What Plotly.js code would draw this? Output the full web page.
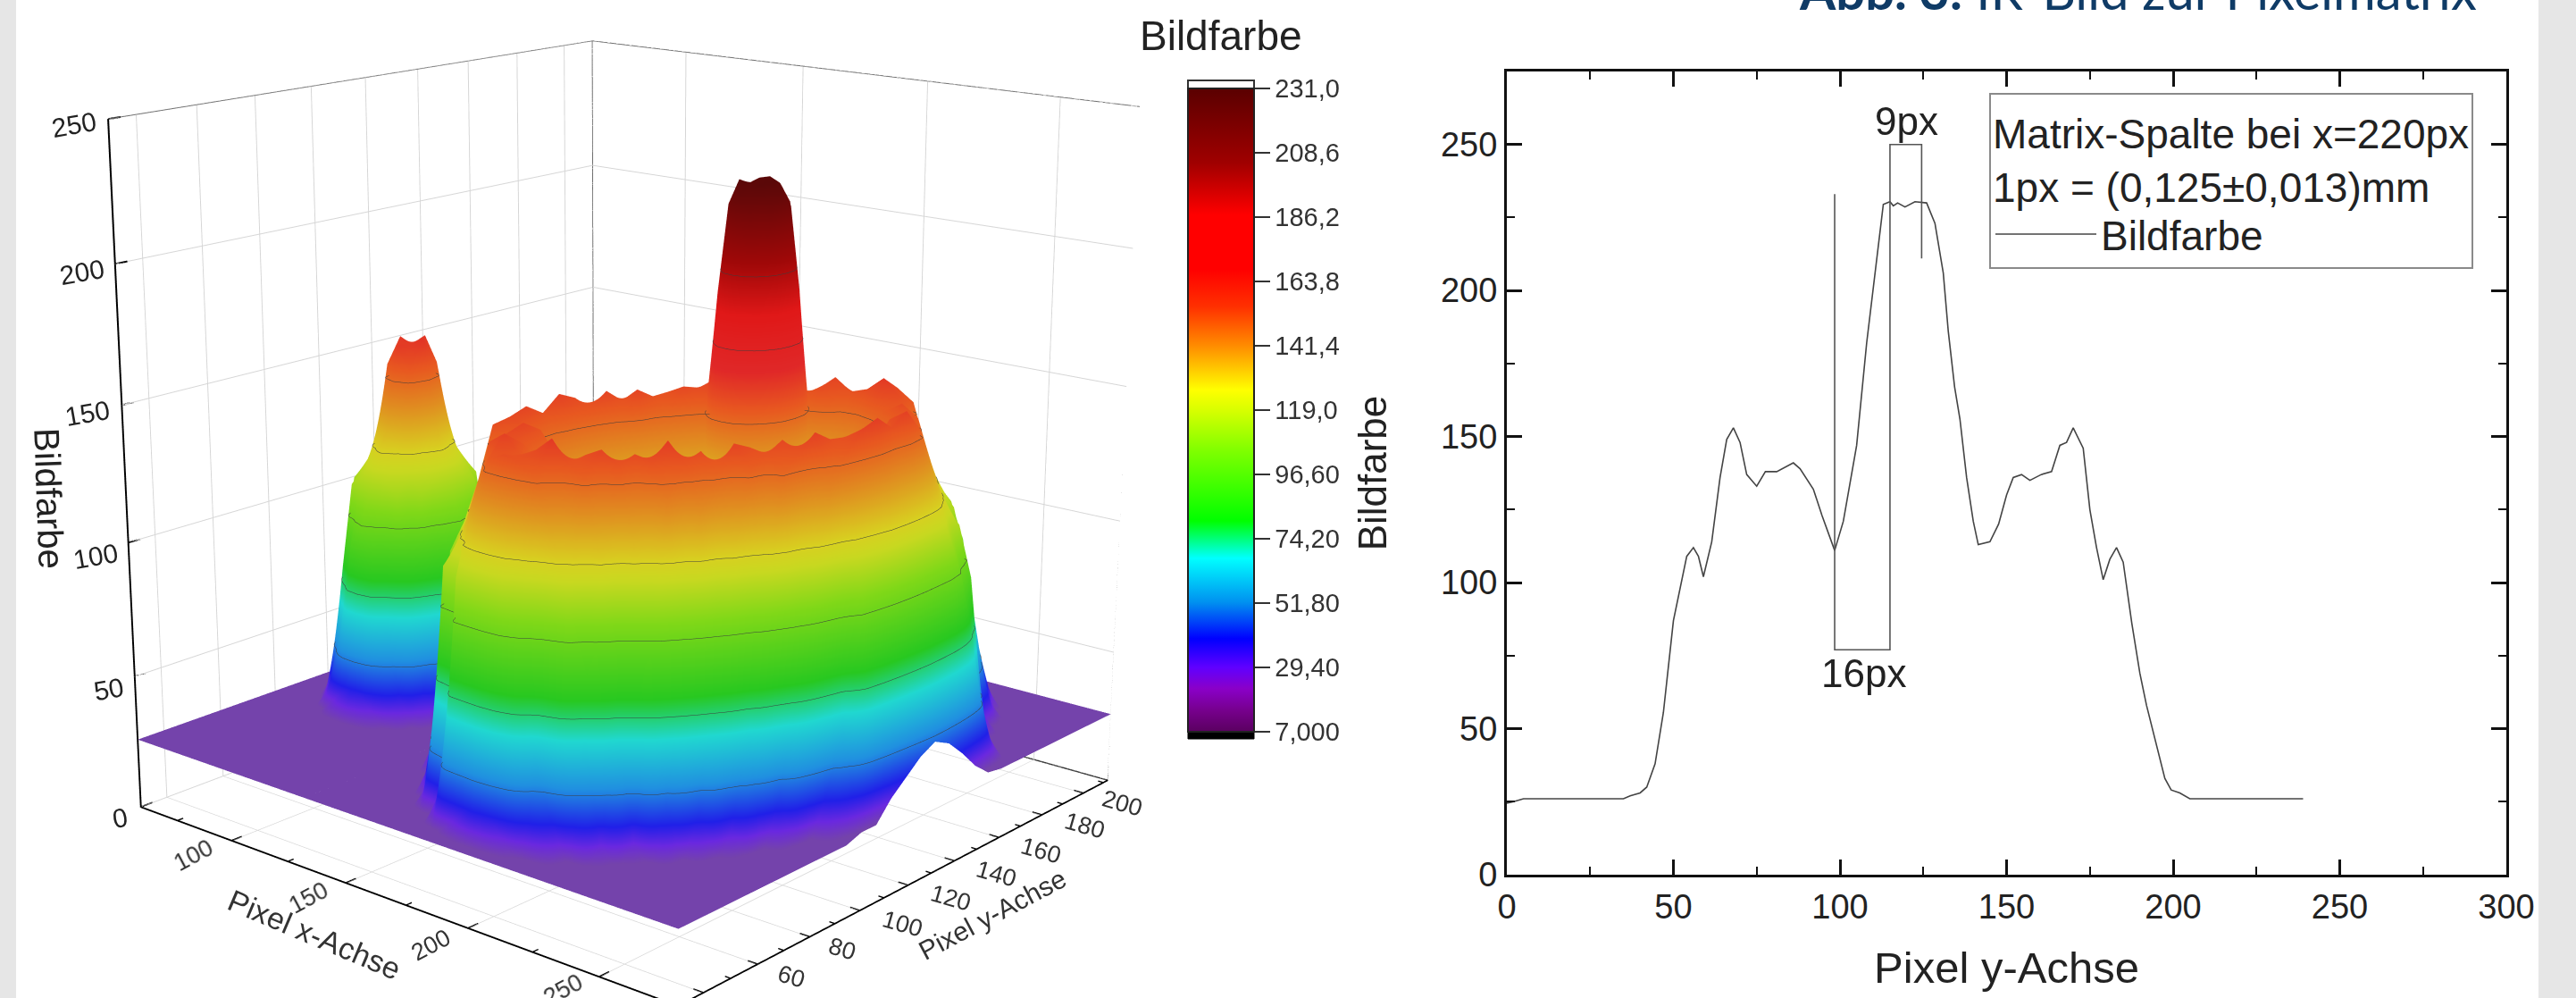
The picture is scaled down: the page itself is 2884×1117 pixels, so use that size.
<!DOCTYPE html>
<html><head><meta charset="utf-8">
<script src="https://cdn.plot.ly/plotly-3.0.1.min.js"></script>
<style>html,body{margin:0;background:#fff;overflow:hidden;width:2884px;height:1117px}#g{position:absolute;left:0;width:2884px}</style>
</head><body><div id="g"></div><script>
/* ---------- 3D chart data ---------- */
var xRange=[57.748,278.384], yRange=[30.986,212.225], zRange=[0,250];
var floorValue=26;
var bodyX=[133,139,145,151,157,163,169,175,181,187,193,199,205,211,217,223,229,235,241,247,253,259,265,271,278.384];
var bodyY=[30.986,34,40,46,52,58,64,70,76,82,88,94,100,106,112,118,124,130,136,142,148,154,160,166,172,178,184,190,196,202,208,212.225];
var bodyZ=[
[26,26,26,26,26,26,26,26,26,26,26,26,26,26,26,26,26,26,26,26,26,26,26,26,26],
[26,26,26,26,26,26,26,26,26,30,36,42,39,33,26,26,26,26,26,26,26,26,26,26,26],
[26,26,26,26,26,26,26,26,45,115,119,120,117,96,56,40,26,26,26,26,26,26,26,26,26],
[26,26,26,26,26,26,40,114,122,139,154,157,156,152,135,112,65,34,26,26,26,26,26,26,26],
[26,26,26,26,26,45,109,121,137,157,161,155,158,163,156,153,125,74,34,26,26,26,26,26,26],
[26,26,26,26,38,75,116,127,147,158,156,148,147,149,157,160,156,131,92,47,26,26,26,26,26],
[26,26,26,45,109,121,137,157,150,160,149,140,137,138,146,151,158,157,146,92,43,26,26,26,26],
[26,26,30,60,116,127,147,158,156,156,149,137,128,128,134,139,149,162,156,141,83,36,26,26,26],
[26,26,40,85,118,131,150,160,149,140,136,131,128,126,127,131,139,149,158,152,127,65,27,26,26],
[26,30,52,95,120,132,150,156,149,137,130,128,130,125,126,127,129,139,150,160,153,111,44,26,26],
[26,32,65,100,120,131,146,161,151,138,128,127,128,128,127,125,126,132,141,157,156,151,83,28,26],
[26,34,68,100,119,130,142,158,155,142,130,125,127,126,127,125,126,127,135,145,159,156,117,42,26],
[26,36,70,98,116,127,138,152,160,148,136,128,127,126,129,126,124,126,128,139,151,161,144,62,28],
[26,36,68,96,114,125,134,146,155,160,142,132,127,125,127,129,126,125,127,134,145,157,154,108,28],
[26,36,66,92,110,120,130,140,152,156,151,139,129,126,124,126,129,126,127,129,140,156,160,118,35],
[26,34,60,88,107,116,126,135,146,156,159,148,138,129,126,125,127,130,129,130,139,151,162,125,40],
[26,30,55,80,103,112,121,130,138,148,157,161,146,137,129,126,127,128,130,132,141,151,157,126,45],
[26,28,48,70,92,107,114,125,132,141,151,158,155,147,138,130,129,130,131,134,143,157,161,124,48],
[26,26,40,60,85,102,110,118,126,133,141,151,156,160,149,141,138,137,139,143,150,157,153,120,45],
[26,26,33,52,75,95,105,114,120,129,134,142,151,158,155,157,148,146,149,154,158,154,136,116,39],
[26,26,28,45,65,85,100,106,114,120,127,132,140,148,155,160,156,158,163,157,150,136,122,100,32],
[26,26,26,37,55,75,92,101,107,114,120,126,132,137,143,150,153,156,158,154,136,121,114,75,27],
[26,29,40,53,64,77,84,92,101,107,114,118,124,128,132,136,139,141,140,134,122,100,93,42,26],
[26,26,32,45,57,68,78,85,92,100,105,112,116,120,124,126,128,128,126,121,114,75,27,26,26],
[26,26,26,36,48,58,70,78,84,90,97,103,107,111,115,117,118,118,117,113,93,42,26,26,26],
[26,26,26,28,37,49,58,68,76,82,87,92,98,102,105,107,108,107,103,97,64,30,26,26,26],
[26,26,26,26,29,37,46,55,64,74,77,81,86,90,93,95,95,92,84,65,38,26,26,26,26],
[26,26,26,26,26,27,36,44,49,58,64,69,75,79,80,80,80,75,57,41,26,26,26,26,26],
[26,26,26,26,26,26,26,32,38,44,49,56,59,61,62,61,55,47,35,26,26,26,26,26,26],
[26,26,26,26,26,26,26,26,26,30,36,40,43,44,43,40,37,30,26,26,26,26,26,26,26],
[26,26,26,26,26,26,26,26,26,26,26,26,28,28,28,26,26,26,26,26,26,26,26,26,26],
[26,26,26,26,26,26,26,26,26,26,26,26,26,26,26,26,26,26,26,26,26,26,26,26,26]];
var spikeX=[185,189,193,197,201,205,209,213,217,221,225,229,233];
var spikeY=[107,111,115,119,123,127,131,135,139,143,147,151,155];
var spikeZ=[
[100,100,100,100,100,100,100,100,100,100,100,100,100],
[100,100,100,100,100,100,104,100,100,100,100,100,100],
[100,100,100,104,116,126,130,126,116,104,100,100,100],
[100,100,104,122,150,175,182,175,150,122,104,100,100],
[100,100,116,150,192,222,228,222,192,150,116,100,100],
[100,104,126,175,222,231,229,230,222,175,126,104,100],
[100,104,130,182,228,229,230,231,228,182,130,104,100],
[100,104,126,175,222,230,231,229,222,175,126,104,100],
[100,100,116,150,192,222,228,222,192,150,116,100,100],
[100,100,104,122,150,175,182,175,150,122,104,100,100],
[100,100,100,104,116,126,130,126,116,104,100,100,100],
[100,100,100,100,100,100,104,100,100,100,100,100,100],
[100,100,100,100,100,100,100,100,100,100,100,100,100]];
var humpX=[70,75,80,85,90,95,100,105,110,115,120,125,130];
var humpY=[70,75,80,85,90,95,100,105,110,115,120,125,130];
var humpZ=[
[26,26,26,26,26,26,26,26,26,26,26,26,26],
[26,26,26,27,32,37,40,37,32,27,26,26,26],
[26,26,28,40,62,92,100,92,62,40,28,26,26],
[26,27,40,80,112,116,117,116,112,80,40,27,26],
[26,32,62,112,118,125,133,125,118,112,62,32,26],
[26,37,92,116,125,155,163,156,125,116,92,37,26],
[26,40,100,117,133,164,162,165,133,117,100,40,26],
[26,37,92,116,125,154,164,155,125,116,92,37,26],
[26,32,62,112,118,125,133,125,118,112,62,32,26],
[26,27,40,80,112,116,117,116,112,80,40,27,26],
[26,26,28,40,62,92,100,92,62,40,28,26,26],
[26,26,26,27,32,37,40,37,32,27,26,26,26],
[26,26,26,26,26,26,26,26,26,26,26,26,26]];
var zTickMajor=[0,50,100,150,200,250];
var zTickLabels=['0','50','100','150','200','250'];
var xTickMajor=[100,150,200,250], xTickMinor=[75,125,175,225,275];
var yTickMajor=[40,60,80,100,120,140,160,180,200], yTickMinor=[50,70,90,110,130,150,170,190,210];
var contourLevels={start:25,end:225,size:25};
/* ---------- colour bar ---------- */
var barTickVals=[7,29.4,51.8,74.2,96.6,119,141.4,163.8,186.2,208.6,231];
var barTickText=['7,000','29,40','51,80','74,20','96,60','119,0','141,4','163,8','186,2','208,6','231,0'];
var barZ=[7,14,22,29.4,39.4,52,67.4,80.4,105,119,126,141.4,155,168,187,205,231];
var barColors=['#5a0060','#75008a','#8a00c8','#6000ff','#0000ff','#0090f0','#00ffff','#00ff00','#80ff00','#d8ff00','#ffff00','#ff8c00','#ff3000','#ff0000','#ff0000','#a00000','#5a0000'];
var surfZ=[7,26,28,33,39.4,52,67.4,80.4,105,119,126,141.4,155,168,187,205,231];
var surfColors=['#7443ab','#7443ab','#7443ab','#6a28e0','#2020e8','#2090e0','#20d8d0','#28c820','#80d818','#c8d820','#d8d020','#e08c20','#e85820','#e02828','#e01818','#a00808','#5a0808'];
/* ---------- 2D chart data ---------- */
var profX=[0,2,5,35,37,40,42,44.5,47,50,54,56,57.5,59,61.5,64,66,68,70,72,75,77.6,81,86,88,92,94.6,98.4,101,105,108,110.7,113,115,116,117.3,119.5,122.5,126,128.5,131,132.5,134.4,136,138,140,141.5,145,147.6,150,152,154.5,157,160.4,163.5,166,168,170,173,175,177,179,181,183,185,187.6,190,192,195,197.5,199.4,202,205,239];
var profY=[24.5,25,26,26,27,28,30,38,55.6,87,109,112,109,102,114,136,149,153,148,137,133,138,138,141,139,132,123,111,121,147,182,208,229.5,230.4,229,230,228.6,230.4,230,223,206,186,167,156,136,121,113,114,120,130,136,137,135,137,138,147,148,153,146,125,112,101,108,112,107,86,69,58,44,33,29,28,26,26];
var markX=[98.4,98.4,115,115,124.5,124.5], markY=[233,77,77,250,250,211];
var xTicks2D=[0,50,100,150,200,250,300], yTicks2D=[0,50,100,150,200,250];

/* ---------- layout helpers ---------- */
var f3d=3449.84, Hs=f3d*2*Math.tan(Math.PI/8), topY=559-Hs/2;
var g=document.getElementById('g'); g.style.top=topY+'px'; g.style.height=Hs+'px';
function sx(x){return x/2884} function sy(y){return 1-(y-topY)/Hs}
function scale(zs,cols){return cols.map(function(c,i){return [(zs[i]-7)/224,c]})}
var FONT='"Liberation Sans", Arial, sans-serif';
var contours={z:{show:true,start:contourLevels.start,end:contourLevels.end,size:contourLevels.size,color:'#3c3c3c',width:3}};
var light={ambient:1,diffuse:0,specular:0,roughness:1,fresnel:0};
function surf(x,y,z){return {type:'surface',x:x,y:y,z:z,cmin:7,cmax:231,colorscale:scale(surfZ,surfColors),showscale:false,contours:contours,lighting:light,hoverinfo:'skip'}}
var floorScale=[[0,'#7443ab'],[1,'#7443ab']];
function flat(x,y){return {type:'surface',x:x,y:y,z:[[floorValue,floorValue],[floorValue,floorValue]],cmin:0,cmax:1,colorscale:floorScale,showscale:false,lighting:light,hoverinfo:'skip'}}
var xa=xRange[0],xb=xRange[1],ya=yRange[0],yb=yRange[1],zt=zRange[1];
var traces=[
 flat([xa,bodyX[0]],[ya,yb]),
 surf(humpX,humpY,humpZ), surf(bodyX,bodyY,bodyZ), surf(spikeX,spikeY,spikeZ),
 {type:'scatter3d',mode:'lines',x:[xa,xa,xb,null,xa,xa,null,xb,xb],y:[ya,yb,yb,null,yb,yb,null,yb,yb],z:[zt,zt,zt,null,0,zt,null,0,zt],line:{color:'#6e6e6e',width:2},showlegend:false,hoverinfo:'skip'},
 {type:'scatter3d',mode:'lines',x:[xa,xa,xb],y:[ya,yb,yb],z:[0,0,0],line:{color:'#222',width:3},showlegend:false,hoverinfo:'skip'}
];
function ticks3d(vals,fn,w){var X=[],Y=[],Z=[];vals.forEach(function(v){var s=fn(v);X.push(s[0][0],s[1][0],null);Y.push(s[0][1],s[1][1],null);Z.push(s[0][2],s[1][2],null)});
 return {type:'scatter3d',mode:'lines',x:X,y:Y,z:Z,line:{color:'#000',width:w},showlegend:false,hoverinfo:'skip'}}
traces.push(ticks3d(xTickMajor,function(v){return [[v,ya,0],[v,ya+3.5,0]]},4));
traces.push(ticks3d(xTickMinor,function(v){return [[v,ya,0],[v,ya+2,0]]},3));
traces.push(ticks3d(yTickMajor,function(v){return [[xb,v,0],[xb-3.5,v,0]]},4));
traces.push(ticks3d(yTickMinor,function(v){return [[xb,v,0],[xb-2,v,0]]},3));
traces.push(ticks3d(zTickMajor,function(v){return [[xa,ya,v],[xa,ya+4,v]]},4));
/* 2D traces */
traces.push({type:'scatter',mode:'lines',x:profX,y:profY,name:'Bildfarbe',line:{color:'#444',width:1.6},xaxis:'x',yaxis:'y',hoverinfo:'skip'});
traces.push({type:'scatter',mode:'lines',x:markX,y:markY,line:{color:'#555',width:1.6},xaxis:'x',yaxis:'y',showlegend:false,hoverinfo:'skip'});
traces.push({type:'scatter',mode:'markers',x:[-50,-50],y:[-50,-50],xaxis:'x',yaxis:'y',showlegend:false,hoverinfo:'skip',
 marker:{size:1,color:[7,231],cmin:7,cmax:231,colorscale:scale(barZ,barColors),showscale:true,
  colorbar:{x:sx(1330),xanchor:'left',xref:'paper',y:sy(459),yref:'paper',yanchor:'middle',thicknessmode:'pixels',thickness:74,lenmode:'pixels',len:720,xpad:0,ypad:0,outlinecolor:'#222',outlinewidth:2,borderwidth:0,
   tickmode:'array',tickvals:barTickVals,ticktext:barTickText,ticks:'outside',ticklen:17,tickwidth:2,tickcolor:'#333',tickfont:{family:FONT,size:29,color:'#333'}}}});
var axis3d={showline:true,linecolor:'#000',linewidth:4,showticklabels:false,ticks:'',title:{text:''},gridcolor:'#d6d6d6',gridwidth:2,zeroline:false,showspikes:false,showbackground:true,backgroundcolor:'#fff',autorange:false};
function ax(o){return Object.assign({},axis3d,o)}
function lab(x,y,t,a,s,col){return {xref:'paper',yref:'paper',x:sx(x),y:sy(y),xanchor:'center',yanchor:'middle',showarrow:false,text:t,textangle:a,font:{family:FONT,size:s,color:col||'#222'}}}
var ann=[];
[[134,915],[121,771],[107,622],[98,463],[92,305],[83,140]].forEach(function(p,i){ann.push(lab(p[0],p[1],zTickLabels[i],-10,30))});
[[217,957],[345,1005],[482,1058],[630,1108]].forEach(function(p,i){ann.push(lab(p[0],p[1],String(xTickMajor[i]),-28,27,'#333'))});
[[886,1093],[943,1062],[1010,1034],[1064,1005],[1115,978],[1165,952],[1214,924],[1256,899]].forEach(function(p,i){ann.push(lab(p[0],p[1],String(yTickMajor[i+1]),16,27,'#333'))});
ann.push(lab(352,1046,'Pixel x-Achse',23,34,'#333'));
ann.push(lab(1111,1023,'Pixel y-Achse',-28,30,'#333'));
ann.push(lab(55,558,'Bildfarbe',88,40));
ann.push(lab(1367,40,'Bildfarbe',0,46));
ann.push({xref:'paper',yref:'paper',x:sx(2775),y:sy(25),xanchor:'right',yanchor:'bottom',showarrow:false,text:'<b>Abb. 3:</b> IR-Bild zur Pixelmatrix',font:{family:'Lato, "Open Sans", sans-serif',size:58,color:'#0f3b66'}});
ann.push({xref:'x',yref:'y',x:120,y:258,showarrow:false,text:'9px',font:{family:FONT,size:44,color:'#222'}});
ann.push({xref:'x',yref:'y',x:107,y:69,showarrow:false,text:'16px',font:{family:FONT,size:44,color:'#222'}});
function band(a,b){return {type:'rect',xref:'paper',yref:'paper',x0:sx(a),x1:sx(b),y0:0,y1:1,fillcolor:'#e6e6e6',line:{width:0},layer:'below'}}
var shapes=[band(0,18),band(2842,2884),
 {type:'rect',xref:'paper',yref:'paper',x0:sx(1330),x1:sx(1404),y0:sy(99),y1:sy(90),fillcolor:'#fff',line:{color:'#333',width:2}},
 {type:'rect',xref:'paper',yref:'paper',x0:sx(1330),x1:sx(1404),y0:sy(827),y1:sy(819),fillcolor:'#000',line:{color:'#000',width:1}}];
var tf={family:FONT,size:38,color:'#222'};
var layout={paper_bgcolor:'#fff',plot_bgcolor:'rgba(0,0,0,0)',margin:{l:0,r:0,t:0,b:0,pad:0},showlegend:true,hovermode:false,annotations:ann,shapes:shapes,
 scene:{domain:{x:[0,1400/2884],y:[0,1]},aspectmode:'manual',aspectratio:{x:1.0068,y:0.9973,z:1},bgcolor:'rgba(0,0,0,0)',
  camera:{eye:{x:2.7222,y:-3.1982,z:1.1831},center:{x:0.0251,y:-0.0395,z:-0.0385},up:{x:0,y:0,z:1},projection:{type:'perspective'}},
  xaxis:ax({range:xRange,tickvals:xTickMajor,tickmode:'array'}),yaxis:ax({range:yRange,tickvals:yTickMajor,tickmode:'array'}),zaxis:ax({range:zRange,tickvals:zTickMajor,tickmode:'array'})},
 xaxis:{domain:[sx(1687),sx(2806)],range:[0,300],tickvals:xTicks2D,tickmode:'array',ticks:'inside',ticklen:17,tickwidth:2.5,tickcolor:'#111',mirror:'allticks',showline:true,linecolor:'#111',linewidth:3,showgrid:false,zeroline:false,tickfont:tf,anchor:'y',
  minor:{dtick:25,ticks:'inside',ticklen:9,tickwidth:2,tickcolor:'#111',showgrid:false},title:{text:'Pixel y-Achse',font:{family:FONT,size:49,color:'#222'},standoff:32}},
 yaxis:{domain:[sy(979),sy(80)],range:[0,275],tickvals:yTicks2D,tickmode:'array',ticks:'inside',ticklen:17,tickwidth:2.5,tickcolor:'#111',mirror:'allticks',showline:true,linecolor:'#111',linewidth:3,showgrid:false,zeroline:false,tickfont:tf,anchor:'x',
  minor:{dtick:25,ticks:'inside',ticklen:9,tickwidth:2,tickcolor:'#111',showgrid:false},title:{text:'Bildfarbe',font:{family:FONT,size:44,color:'#222'},standoff:47}},
 legend:{x:sx(2227),y:sy(104),xanchor:'left',yanchor:'top',bgcolor:'#fff',bordercolor:'#8a8a8a',borderwidth:2,itemwidth:113,font:{family:FONT,size:46,color:'#222'},title:{text:'Matrix-Spalte bei x=220px<br>1px = (0,125±0,013)mm',font:{family:FONT,size:46,color:'#222'}}}
};
Plotly.newPlot('g',traces,layout,{displayModeBar:false,responsive:false});
</script></body></html>
